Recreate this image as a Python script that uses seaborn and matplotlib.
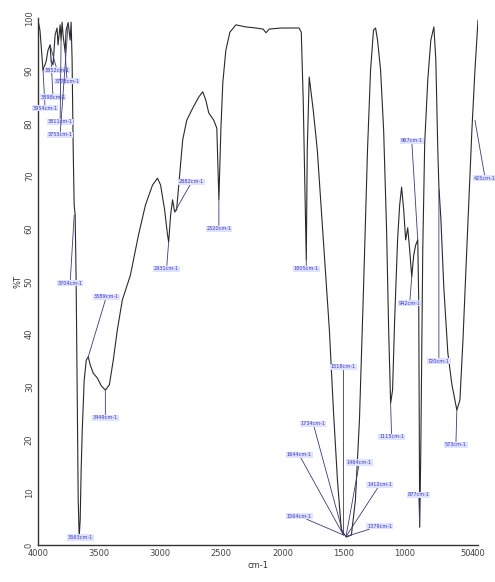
import matplotlib
matplotlib.use("Agg")
import matplotlib.pyplot as plt
import seaborn as sns
import pandas as pd

# ---- data ----
wavenumber = [4000, 3984, 3959, 3934, 3918, 3901, 3893, 3877, 3860, 3844, 3836, 3819, 3811, 3803,
              3795, 3778, 3770, 3753, 3737, 3729, 3721, 3712, 3704, 3696, 3688, 3679, 3671, 3663,
              3655, 3647, 3638, 3622, 3605, 3589, 3573, 3548, 3515, 3482, 3449, 3416, 3384, 3351,
              3310, 3244, 3178, 3121, 3063, 3022, 2997, 2964, 2940, 2931, 2915, 2899, 2882, 2866,
              2841, 2816, 2783, 2734, 2685, 2652, 2627, 2603, 2562, 2537, 2520, 2504, 2488, 2463,
              2430, 2381, 2298, 2216, 2159, 2134, 2109, 2011, 1929, 1863, 1846, 1830, 1814, 1805,
              1797, 1781, 1748, 1715, 1682, 1649, 1616, 1583, 1550, 1518, 1477, 1436, 1403, 1370,
              1337, 1304, 1279, 1255, 1238, 1222, 1197, 1172, 1148, 1131, 1115, 1099, 1082, 1058,
              1041, 1025, 1008, 992, 975, 959, 942, 926, 910, 893, 885, 877, 868, 852,
              836, 811, 786, 761, 745, 729, 720, 704, 680, 647, 614, 581, 573, 548,
              523, 499, 474, 450, 425, 400]
transmittance = [99.6, 97.7, 90.1, 91.7, 93.9, 94.9, 92.0, 91.1, 96.8, 98.1, 94.9, 98.7, 95.8, 99.2,
                 96.8, 93.5, 97.7, 99.1, 95.8, 99.2, 92.0, 75.0, 64.5, 62.6, 50.3, 27.5, 8.5, 1.5,
                 4.7, 14.2, 21.8, 31.3, 35.1, 35.7, 34.2, 32.6, 31.7, 30.2, 29.4, 30.4, 35.1, 40.8,
                 46.5, 51.2, 58.8, 64.5, 68.3, 69.6, 68.3, 63.6, 58.8, 57.5, 62.6, 65.5, 63.2, 63.6,
                 70.2, 76.9, 80.6, 82.9, 85.0, 86.0, 84.4, 82.0, 80.6, 79.1, 65.5, 78.7, 87.7, 93.9,
                 97.3, 98.7, 98.3, 98.1, 97.9, 97.2, 97.9, 98.1, 98.1, 98.1, 97.3, 84.4, 65.5, 54.1,
                 75.0, 88.8, 82.5, 75.0, 63.6, 52.2, 40.8, 25.6, 12.3, 2.8, 1.5, 1.9, 8.5, 23.7,
                 48.4, 75.0, 90.1, 97.7, 98.1, 95.8, 90.1, 78.7, 59.8, 40.8, 26.9, 29.4, 42.7, 57.9,
                 64.5, 67.9, 63.6, 57.9, 60.2, 56.0, 50.9, 55.0, 56.9, 57.9, 46.5, 3.4, 18.0, 56.0,
                 76.3, 88.2, 95.8, 98.3, 92.0, 75.0, 68.0, 62.0, 49.0, 36.5, 30.5, 26.5, 25.6, 27.5,
                 38.9, 52.2, 65.5, 78.7, 90.1, 99.6]

peak_labels = ["3954cm-1", "3898cm-1", "3852cm-1", "3778cm-1", "3811cm-1", "3753cm-1",
               "3704cm-1", "3663cm-1", "3589cm-1", "3449cm-1", "2931cm-1", "2882cm-1",
               "2520cm-1", "1805cm-1", "1518cm-1", "1734cm-1", "1644cm-1", "1564cm-1",
               "1464cm-1", "1412cm-1", "1379cm-1", "1115cm-1", "967cm-1", "942cm-1",
               "877cm-1", "720cm-1", "573cm-1", "425cm-1"]
peak_wn = [3959, 3893, 3901, 3778, 3811, 3753, 3704, 3663, 3589, 3449, 2931, 2882, 2520, 1805,
           1501, 1501, 1501, 1501, 1480, 1480, 1480, 1115, 893, 942, 877, 720, 573, 425]
peak_T = [90.1, 92.0, 94.9, 93.5, 95.8, 99.1, 62.6, 1.5, 35.7, 29.4, 57.5, 63.2, 65.5, 54.1,
          1.9, 1.9, 1.9, 1.9, 1.6, 1.6, 1.6, 26.9, 57.9, 50.9, 3.4, 67.4, 25.6, 80.6]

# ---- layout: where each label box sits (data coordinates) ----
label_pos = [(3942, 82.9), (3877, 85.0), (3844, 90.1), (3762, 88.0), (3819, 80.3), (3819, 77.8),
             (3737, 49.7), (3655, 1.4), (3441, 47.1), (3449, 24.1), (2948, 52.4), (2742, 68.9),
             (2520, 60.0), (1805, 52.4), (1501, 33.8), (1748, 23.0), (1863, 17.1), (1863, 5.5),
             (1370, 15.7), (1205, 11.4), (1205, 3.6), (1107, 20.5), (942, 76.7), (959, 45.9),
             (885, 9.5), (720, 34.9), (581, 19.0), (342, 69.6)]

df = pd.DataFrame({"wn": wavenumber, "T": transmittance})

sns.set_style("white")
fig = plt.figure(figsize=(4.95, 5.82), dpi=100)
ax = fig.add_axes([38 / 495, 37 / 582, 440 / 495, 527 / 582])

sns.lineplot(data=df, x="wn", y="T", sort=False, ax=ax, color="#2a2a2a", linewidth=0.8,
             estimator=None)

ax.set_xlim(4000, 400)
ax.set_ylim(0, 100)
ax.set_xticks([4000, 3500, 3000, 2500, 2000, 1500, 1000, 500, 400])
ax.set_xticklabels(["4000", "3500", "3000", "2500", "2000", "1500", "1000", "50", "400"])
ax.set_yticks(range(0, 101, 10))
ax.tick_params(axis="x", labelsize=6, colors="#444444", length=2, direction="in", pad=3)
ax.tick_params(axis="y", labelsize=6, colors="#444444", length=2, direction="in", pad=3,
               labelrotation=90)
for lab in ax.get_yticklabels():
    lab.set_verticalalignment("center")
for s in ["top", "right"]:
    ax.spines[s].set_visible(False)
for s in ["left", "bottom"]:
    ax.spines[s].set_color("#333333")
    ax.spines[s].set_linewidth(1.0)

ax.set_xlabel("cm-1", fontsize=6, color="#333333", labelpad=2)
ax.set_ylabel("%T", fontsize=6, color="#333333", labelpad=2)

for text, x, y, (lx, ly) in zip(peak_labels, peak_wn, peak_T, label_pos):
    ax.annotate(text, xy=(x, y), xytext=(lx, ly), fontsize=3.6, color="#3b3bc8",
                ha="center", va="center", annotation_clip=False,
                bbox=dict(boxstyle="square,pad=0.15", fc="#dfe2ff", ec="none"),
                arrowprops=dict(arrowstyle="-", color="#3a3a7a", lw=0.6,
                                shrinkA=0, shrinkB=0))

fig.savefig("out.png", dpi=100)
